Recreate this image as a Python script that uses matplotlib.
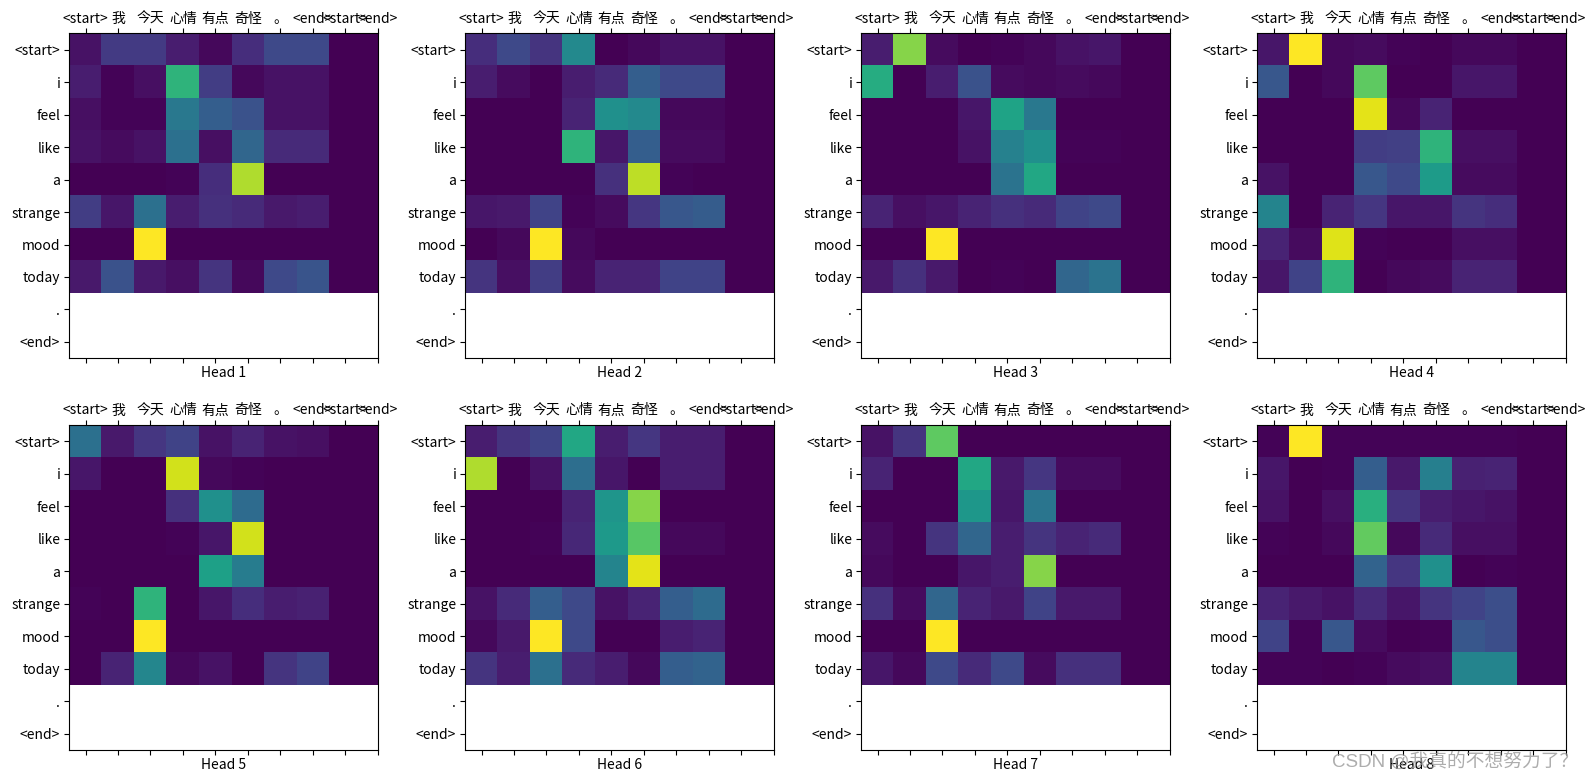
import numpy as np
import matplotlib
matplotlib.use("Agg")
import matplotlib.pyplot as plt

plt.rcParams['font.family'] = ['Noto Sans CJK SC', 'DejaVu Sans']

x_labels = ['<start>', '我', '今天', '心情', '有点', '奇怪', '。', '<end>', '<start>', '<end>']
y_labels = ['<start>', 'i', 'feel', 'like', 'a', 'strange', 'mood', 'today', '.', '<end>']

# attention weights (rows: target tokens, first 8 source columns; the remaining columns are 0)
head1 = [
    [0.05, 0.17, 0.17, 0.08, 0.02, 0.13, 0.22, 0.22],
    [0.08, 0.01, 0.04, 0.65, 0.18, 0.02, 0.05, 0.05],
    [0.04, 0.01, 0.01, 0.40, 0.30, 0.25, 0.05, 0.05],
    [0.05, 0.03, 0.05, 0.37, 0.04, 0.33, 0.12, 0.12],
    [0.00, 0.00, 0.00, 0.01, 0.13, 0.88, 0.00, 0.00],
    [0.18, 0.06, 0.37, 0.08, 0.14, 0.12, 0.07, 0.08],
    [0.00, 0.00, 1.00, 0.00, 0.00, 0.00, 0.00, 0.00],
    [0.07, 0.25, 0.07, 0.04, 0.15, 0.02, 0.22, 0.26],
]
head2 = [
    [0.13, 0.22, 0.15, 0.47, 0.00, 0.02, 0.05, 0.05],
    [0.08, 0.03, 0.00, 0.08, 0.12, 0.30, 0.22, 0.22],
    [0.00, 0.00, 0.00, 0.10, 0.50, 0.47, 0.02, 0.02],
    [0.00, 0.00, 0.00, 0.65, 0.06, 0.30, 0.03, 0.03],
    [0.00, 0.00, 0.00, 0.00, 0.14, 0.90, 0.01, 0.00],
    [0.06, 0.07, 0.20, 0.01, 0.03, 0.16, 0.27, 0.29],
    [0.00, 0.02, 1.00, 0.02, 0.00, 0.00, 0.00, 0.00],
    [0.15, 0.04, 0.18, 0.03, 0.10, 0.10, 0.20, 0.20],
]
head3 = [
    [0.08, 0.82, 0.03, 0.00, 0.01, 0.02, 0.05, 0.06],
    [0.62, 0.00, 0.08, 0.25, 0.03, 0.02, 0.03, 0.02],
    [0.00, 0.00, 0.00, 0.06, 0.58, 0.40, 0.00, 0.00],
    [0.00, 0.00, 0.00, 0.05, 0.44, 0.50, 0.01, 0.01],
    [0.00, 0.00, 0.00, 0.00, 0.38, 0.60, 0.00, 0.00],
    [0.10, 0.04, 0.06, 0.10, 0.14, 0.12, 0.20, 0.22],
    [0.00, 0.00, 1.00, 0.00, 0.00, 0.00, 0.00, 0.00],
    [0.07, 0.14, 0.07, 0.00, 0.01, 0.00, 0.33, 0.38],
]
head4 = [
    [0.06, 1.00, 0.02, 0.03, 0.01, 0.00, 0.02, 0.02],
    [0.27, 0.00, 0.02, 0.75, 0.00, 0.00, 0.06, 0.06],
    [0.00, 0.00, 0.00, 0.96, 0.02, 0.10, 0.00, 0.00],
    [0.00, 0.00, 0.00, 0.18, 0.19, 0.65, 0.04, 0.04],
    [0.05, 0.00, 0.00, 0.27, 0.22, 0.55, 0.03, 0.03],
    [0.45, 0.00, 0.10, 0.16, 0.06, 0.06, 0.15, 0.13],
    [0.10, 0.03, 0.95, 0.01, 0.00, 0.00, 0.04, 0.04],
    [0.06, 0.20, 0.65, 0.00, 0.02, 0.03, 0.10, 0.10],
]
head5 = [
    [0.37, 0.07, 0.16, 0.20, 0.05, 0.10, 0.05, 0.04],
    [0.06, 0.00, 0.00, 0.93, 0.02, 0.01, 0.00, 0.00],
    [0.00, 0.00, 0.00, 0.14, 0.50, 0.35, 0.00, 0.00],
    [0.00, 0.00, 0.00, 0.01, 0.06, 0.93, 0.00, 0.00],
    [0.00, 0.00, 0.00, 0.00, 0.57, 0.42, 0.00, 0.00],
    [0.01, 0.00, 0.65, 0.00, 0.06, 0.13, 0.08, 0.09],
    [0.00, 0.00, 1.00, 0.00, 0.00, 0.00, 0.00, 0.00],
    [0.00, 0.10, 0.46, 0.02, 0.05, 0.00, 0.15, 0.20],
]
head6 = [
    [0.08, 0.15, 0.20, 0.60, 0.08, 0.16, 0.08, 0.08],
    [0.88, 0.00, 0.05, 0.36, 0.06, 0.00, 0.08, 0.08],
    [0.00, 0.00, 0.00, 0.10, 0.52, 0.82, 0.00, 0.00],
    [0.00, 0.00, 0.01, 0.11, 0.54, 0.74, 0.02, 0.02],
    [0.00, 0.00, 0.00, 0.00, 0.45, 0.96, 0.00, 0.00],
    [0.05, 0.12, 0.30, 0.22, 0.05, 0.10, 0.30, 0.35],
    [0.02, 0.07, 1.00, 0.22, 0.00, 0.00, 0.08, 0.10],
    [0.15, 0.08, 0.37, 0.12, 0.08, 0.02, 0.30, 0.32],
]
head7 = [
    [0.05, 0.15, 0.75, 0.00, 0.00, 0.00, 0.00, 0.00],
    [0.10, 0.00, 0.00, 0.60, 0.07, 0.16, 0.03, 0.03],
    [0.00, 0.00, 0.00, 0.53, 0.06, 0.39, 0.00, 0.00],
    [0.03, 0.00, 0.15, 0.33, 0.08, 0.15, 0.10, 0.12],
    [0.02, 0.00, 0.00, 0.06, 0.08, 0.82, 0.00, 0.00],
    [0.14, 0.03, 0.33, 0.10, 0.07, 0.20, 0.07, 0.07],
    [0.00, 0.00, 1.00, 0.00, 0.00, 0.00, 0.00, 0.00],
    [0.06, 0.02, 0.22, 0.12, 0.22, 0.03, 0.14, 0.14],
]
head8 = [
    [0.01, 1.00, 0.01, 0.01, 0.01, 0.01, 0.01, 0.01],
    [0.06, 0.00, 0.01, 0.30, 0.07, 0.43, 0.09, 0.10],
    [0.05, 0.00, 0.04, 0.63, 0.15, 0.08, 0.06, 0.05],
    [0.01, 0.00, 0.02, 0.76, 0.02, 0.12, 0.04, 0.04],
    [0.00, 0.00, 0.00, 0.32, 0.16, 0.50, 0.00, 0.01],
    [0.10, 0.07, 0.05, 0.12, 0.06, 0.15, 0.20, 0.24],
    [0.20, 0.01, 0.27, 0.03, 0.00, 0.01, 0.27, 0.24],
    [0.01, 0.01, 0.00, 0.01, 0.03, 0.04, 0.45, 0.45],
]
heads = [head1, head2, head3, head4, head5, head6, head7, head8]
head_titles = ['Head 1', 'Head 2', 'Head 3', 'Head 4', 'Head 5', 'Head 6', 'Head 7', 'Head 8']

W, H = 1593, 778
fig = plt.figure(figsize=(W / 100, H / 100), dpi=100)

lefts_px = [69.3, 465.3, 861.3, 1257.3]
tops_px = [33.3, 425.0]
aw_px, ah_px = 308.5, 325.0

fontdict = {'fontsize': 10}

for k, att in enumerate(heads):
    r, c = divmod(k, 4)
    l = lefts_px[c] / W
    b = 1 - (tops_px[r] + ah_px) / H
    ax = fig.add_axes([l, b, aw_px / W, ah_px / H])
    data = np.array(att, dtype=float)
    full = np.zeros((data.shape[0], len(x_labels)))
    full[:, :data.shape[1]] = data
    ax.matshow(full, cmap='viridis', vmin=0, vmax=1)
    ax.set_xticks(range(len(x_labels)))
    ax.set_yticks(range(len(y_labels)))
    ax.set_xlim(-0.5, len(x_labels) - 1)
    ax.set_ylim(len(y_labels) - 0.5, -0.5)
    ax.set_xticklabels(x_labels, fontdict=fontdict)
    ax.set_yticklabels(y_labels, fontdict=fontdict)
    ax.set_xlabel(head_titles[k], fontdict=fontdict, labelpad=2)
    ax.tick_params(axis='x', pad=2)
    ax.tick_params(axis='y', pad=3)

fig.text(1578 / W, 1 - 762 / H, 'CSDN @我真的不想努力了？', fontsize=13.5,
         family=['Liberation Sans', 'Noto Sans CJK SC'], color='#999999',
         alpha=0.8, ha='right', va='center', zorder=10)

fig.savefig('out.png', dpi=100)
